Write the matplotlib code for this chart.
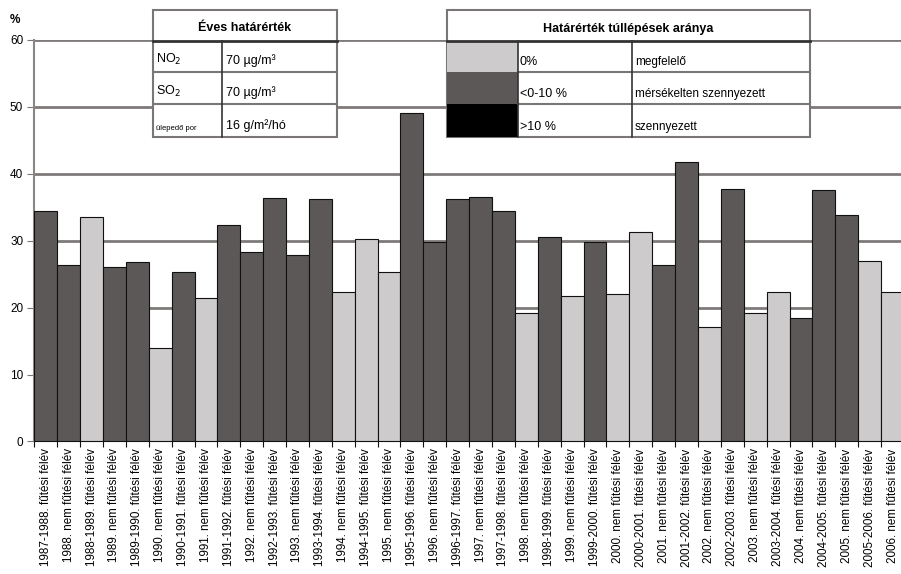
import numpy as np
import matplotlib
matplotlib.use("Agg")
import matplotlib.pyplot as plt
from matplotlib.patches import Rectangle

plt.rcParams['font.family'] = ['Liberation Sans', 'DejaVu Sans']

# ============================================================
# Data
# ============================================================
periods = [
    "1987-1988.", "1988.", "1988-1989.", "1989.", "1989-1990.", "1990.",
    "1990-1991.", "1991.", "1991-1992.", "1992.", "1992-1993.", "1993.",
    "1993-1994.", "1994.", "1994-1995.", "1995.", "1995-1996.", "1996.",
    "1996-1997.", "1997.", "1997-1998.", "1998.", "1998-1999.", "1999.",
    "1999-2000.", "2000.", "2000-2001.", "2001.", "2001-2002.", "2002.",
    "2002-2003.", "2003.", "2003-2004.", "2004.", "2004-2005.", "2005.",
    "2005-2006.", "2006.",
]
values = [
    34.5, 26.4, 33.5, 26.1, 26.8, 14.0, 25.3, 21.5, 32.4, 28.3,
    36.4, 27.9, 36.2, 22.4, 30.2, 25.3, 49.1, 29.8, 36.2, 36.6,
    34.4, 19.2, 30.5, 21.7, 29.8, 22.0, 31.3, 26.3, 41.8, 17.1,
    37.7, 19.2, 22.4, 18.4, 37.6, 33.8, 27.0, 22.3,
]
# 0 = megfelelő (0%), 1 = mérsékelten szennyezett (<0-10 %)
category = [
    1, 1, 0, 1, 1, 0, 1, 0, 1, 1,
    1, 1, 1, 0, 0, 0, 1, 1, 1, 1,
    1, 0, 1, 0, 1, 0, 0, 1, 1, 0,
    1, 0, 0, 1, 1, 1, 0, 0,
]
limit_rows = [("NO$_2$", "70 µg/m³"), ("SO$_2$", "70 µg/m³"), ("ülepedő por", "16 g/m²/hó")]
legend_rows = [("0%", "megfelelő"), ("<0-10 %", "mérsékelten szennyezett"), (">10 %", "szennyezett")]

colors = ["#cdcbcb", "#5c5858", "#000000"]

labels = []
for i, p in enumerate(periods):
    if i % 2 == 0:
        labels.append(f"{p} fűtési félév")
    else:
        labels.append(f"{p} nem fűtési félév")

# ============================================================
# Plot
# ============================================================
W, H = 901, 574
fig = plt.figure(figsize=(W / 100, H / 100), dpi=100)
ax = fig.add_axes([34.3 / W, 1 - 441.4 / H, (904 - 34.3) / W, (441.4 - 40) / H])

x = np.arange(len(values))
bar_colors = [colors[c] for c in category]
ax.bar(x, values, width=1.0, color=bar_colors, edgecolor="#111111", linewidth=0.8, zorder=3)

ax.set_xlim(-0.5, len(values) - 0.5)
ax.set_ylim(0, 60)
ax.set_yticks(range(0, 61, 10))
ax.grid(axis="y", color="#7e7a7a", linewidth=2.0, zorder=1)
ax.tick_params(axis="y", labelsize=8.5, length=5, color="#777777", pad=3)

ax.set_xticks(np.arange(-0.5, len(values), 1.0))
ax.set_xticklabels([])
ax.set_xticks(x, minor=True)
ax.set_xticklabels(labels, minor=True, rotation=90, fontsize=8.4, va="top", ha="center")
ax.tick_params(axis="x", which="major", length=4, color="#111111")
ax.tick_params(axis="x", which="minor", length=0, pad=5)

for s in ["top", "right"]:
    ax.spines[s].set_visible(False)
ax.spines["left"].set_color("#8a8686")
ax.spines["left"].set_linewidth(1.5)
ax.spines["bottom"].set_color("#111111")

fig.text(10 / W, 1 - 20 / H, "%", fontsize=8.5, fontweight="bold", va="center")

# overlay in pixel coordinates for the two tables
ov = fig.add_axes([0, 0, 1, 1], zorder=5)
ov.set_xlim(0, W)
ov.set_ylim(H, 0)
ov.axis("off")
ov.patch.set_visible(False)

line_c = "#7a7676"
rows_y = [40.5, 72, 104, 137]

# table 1: Éves határérték
t1_l, t1_r, t1_c = 152.5, 337, 222
ov.add_patch(Rectangle((t1_l, 10), t1_r - t1_l, 127, facecolor="white", edgecolor=line_c, linewidth=1.5))
ov.plot([t1_l, t1_r], [40.5, 40.5], color="#333333", linewidth=2)
for yy in rows_y[1:-1]:
    ov.plot([t1_l, t1_r], [yy, yy], color=line_c, linewidth=1.5)
ov.plot([t1_c, t1_c], [40.5, 137], color="#333333", linewidth=1.2)
ov.text((t1_l + t1_r) / 2, 28, "Éves határérték", fontsize=9, fontweight="bold", ha="center", va="center")
for i, (name, val) in enumerate(limit_rows):
    yb = rows_y[i + 1] - 5
    fs = 5.5 if i == 2 else 9
    ov.text(t1_l + 3, yb, name, fontsize=fs, ha="left", va="bottom")
    ov.text(t1_c + 4, yb, val, fontsize=9, ha="left", va="bottom")

# table 2: Határérték túllépések aránya
t2_l, t2_r, t2_c1, t2_c2 = 447, 810, 518, 632
ov.add_patch(Rectangle((t2_l, 10), t2_r - t2_l, 127, facecolor="white", edgecolor=line_c, linewidth=1.5))
for i in range(3):
    ov.add_patch(Rectangle((t2_l, rows_y[i]), t2_c1 - t2_l, rows_y[i + 1] - rows_y[i],
                           facecolor=colors[i], edgecolor="none"))
ov.plot([t2_l, t2_r], [40.5, 40.5], color="#333333", linewidth=2)
for yy in rows_y[1:-1]:
    ov.plot([t2_c1, t2_r], [yy, yy], color=line_c, linewidth=1.5)
ov.plot([t2_c1, t2_c1], [40.5, 137], color="#333333", linewidth=1.2)
ov.plot([t2_c2, t2_c2], [40.5, 137], color="#333333", linewidth=1.2)
ov.text((t2_l + t2_r) / 2, 29, "Határérték túllépések aránya", fontsize=9, fontweight="bold", ha="center", va="center")
for i, (pct, desc) in enumerate(legend_rows):
    yb = rows_y[i + 1] - 4
    ov.text(t2_c1 + 2, yb, pct, fontsize=9, ha="left", va="bottom")
    ov.text(t2_c2 + 3, yb, desc, fontsize=8.5, ha="left", va="bottom")

fig.savefig("out.png", dpi=100)
